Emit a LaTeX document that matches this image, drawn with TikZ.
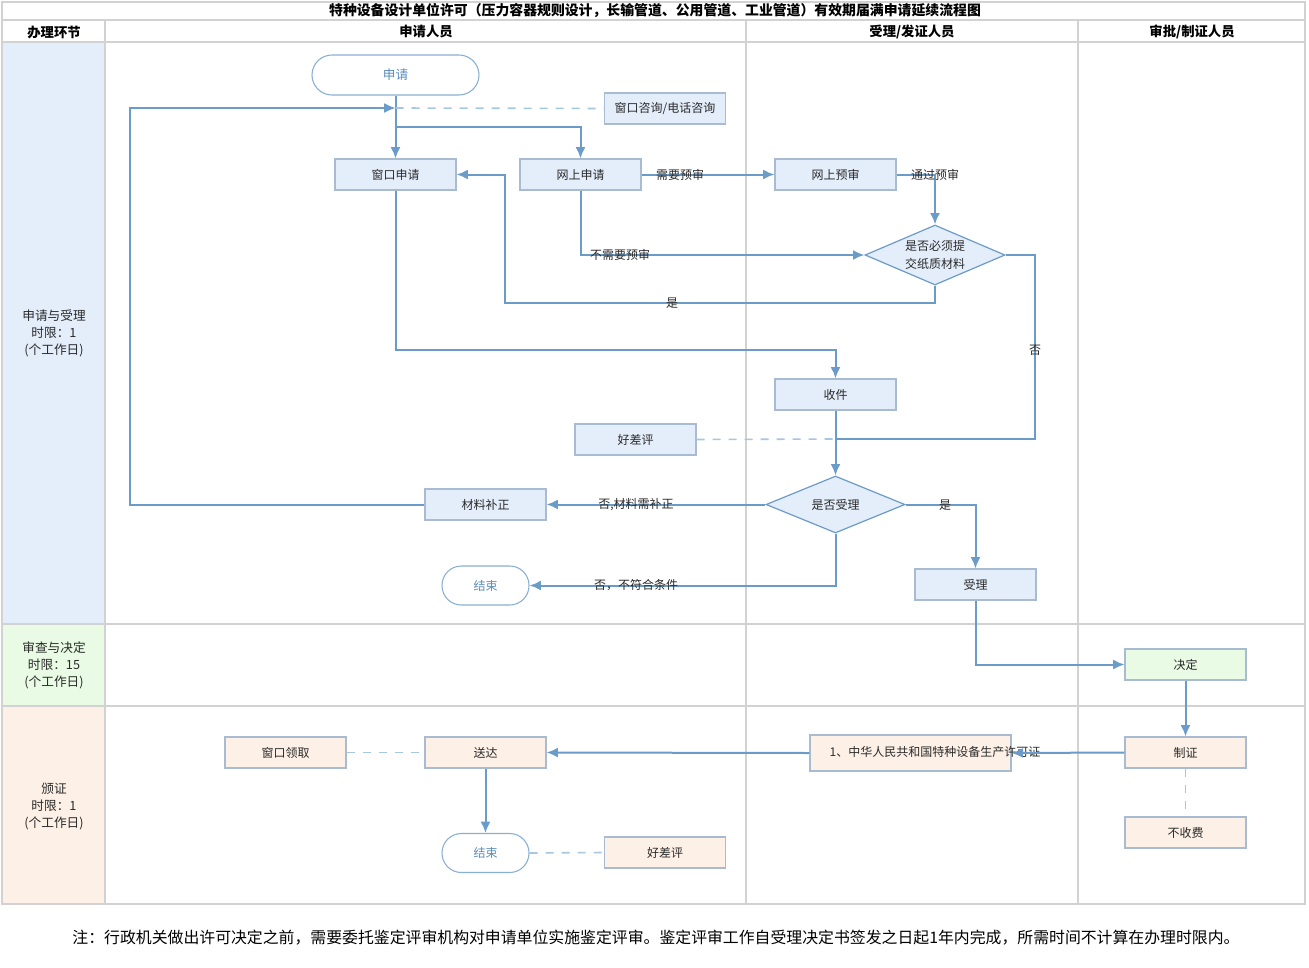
\documentclass[tikz,border=0pt]{standalone}
\usepackage{fontspec}
\setmainfont{Noto Sans CJK SC}
\usetikzlibrary{shapes.geometric,arrows.meta,calc}
\definecolor{boxblue}{HTML}{E4EEFB}
\definecolor{boxgreen}{HTML}{E9FBE4}
\definecolor{boxpeach}{HTML}{FDF0E6}
\definecolor{boxedge}{HTML}{A8BBD0}
\definecolor{flow}{HTML}{6B9BC8}
\definecolor{dashc}{HTML}{A9C6DF}
\definecolor{gridc}{HTML}{D2D2D2}
\definecolor{pilltext}{HTML}{5A8CBD}
\definecolor{txt}{HTML}{2A2A2A}
\begin{document}
\begin{tikzpicture}[x=0.75pt,y=-0.75pt,
  every node/.style={font=\fontsize{9}{11}\selectfont, text=txt},
  procbox/.style={draw=boxedge, line width=0.8pt, fill=boxblue, minimum width=90.75pt, minimum height=23.25pt, inner sep=0pt},
  greenbox/.style={procbox, fill=boxgreen},
  peachbox/.style={procbox, fill=boxpeach},
  pill/.style={draw=flow!80, line width=0.8pt, fill=white, rounded corners=14.5pt, minimum width=65.25pt, minimum height=29.25pt, inner sep=0pt, text=pilltext},
  decide/.style={diamond, aspect=2.4, draw=flow, line width=0.9pt, fill=boxblue, inner sep=0pt, align=center, font=\fontsize{9}{13.5}\selectfont},
  arr/.style={draw=flow, line width=1.5pt, -{Latex[length=8.5pt,width=7.5pt]}},
  ln/.style={draw=flow, line width=1.5pt},
  dsh/.style={draw=dashc, line width=1.2pt, dash pattern=on 6pt off 6pt},
  grid/.style={draw=gridc, line width=1.5pt},
  lbl/.style={inner sep=0pt, text=txt},
  lane/.style={align=center, font=\fontsize{9.5}{12.75}\selectfont, text=txt},
  head/.style={font=\fontsize{10}{12}\bfseries\selectfont, text=black}
]
\useasboundingbox (0,0) rectangle (1309,967);
\fill[white] (0,0) rectangle (1309,967);
% lane fills
\fill[boxblue] (3,42) rectangle (105,624);
\fill[boxgreen] (3,624) rectangle (105,706);
\fill[boxpeach] (3,706) rectangle (105,904);
% grid
\draw[grid] (2,2) rectangle (1305,904);
\draw[grid] (2,20) -- (1305,20);
\draw[grid] (2,42) -- (1305,42);
\draw[grid] (2,624) -- (1305,624);
\draw[grid] (2,706) -- (1305,706);
\draw[grid] (105,20) -- (105,904);
\draw[grid] (746,20) -- (746,904);
\draw[grid] (1078,20) -- (1078,904);
% headers
\node[head, font=\fontsize{10.4}{12}\bfseries\selectfont] (title) at (655,11) {特种设备设计单位许可（压力容器规则设计，长输管道、公用管道、工业管道）有效期届满申请延续流程图};
\node[head] (h1) at (54,32) {办理环节};
\node[head] (h2) at (426,32) {申请人员};
\node[head] (h3) at (912,32) {受理/发证人员};
\node[head] (h4) at (1192,32) {审批/制证人员};
\node[lane] (l1) at (54,333) {申请与受理\\时限：1\\(个工作日)};
\node[lane] (l2) at (54,665) {审查与决定\\时限：15\\(个工作日)};
\node[lane] (l3) at (54,806) {颁证\\时限：1\\(个工作日)};
% nodes
\node[pill, minimum width=125.25pt, minimum height=30pt, rounded corners=15pt, font=\fontsize{9.5}{11}\selectfont] (start) at (395.5,75) {申请};
\node[procbox] (zixun) at (665,108.5) {窗口咨询/电话咨询};
\node[procbox] (ck) at (395.5,174.5) {窗口申请};
\node[procbox] (ws) at (580.5,174.5) {网上申请};
\node[procbox] (ys) at (835.5,174.5) {网上预审};
\node[decide, minimum width=105pt, minimum height=45pt] (d1) at (935,255) {是否必须提\\交纸质材料};
\node[procbox] (sj) at (835.5,394.5) {收件};
\node[procbox] (hp1) at (635.5,439.5) {好差评};
\node[decide, minimum width=104.25pt, minimum height=42.75pt] (d2) at (835.5,504.5) {是否受理};
\node[procbox] (bz) at (485.5,504.5) {材料补正};
\node[pill] (end1) at (485.5,585.5) {结束};
\node[procbox] (sl) at (975.5,584.5) {受理};
\node[greenbox] (jd) at (1185.5,664.5) {决定};
\node[peachbox] (zz) at (1185.5,752.5) {制证};
\node[peachbox] (bsf) at (1185.5,832.5) {不收费};
\node[peachbox, minimum width=150.75pt, minimum height=27pt] (lic) at (910.5,753) {};
\node[anchor=west, inner sep=0pt] (lictxt) at ($(lic.west)+(20,-1)$) {1、中华人民共和国特种设备生产许可证};
\node[peachbox] (sd) at (485.5,752.5) {送达};
\node[peachbox] (lq) at (285.5,752.5) {窗口领取};
\node[pill] (end2) at (485.5,853) {结束};
\node[peachbox] (hp2) at (665,852.5) {好差评};
% coordinates
\coordinate (J) at (395.5,108);
\coordinate (br) at (395.5,127);
\coordinate (lp) at (130,108);
\coordinate (m1) at (935,303);
\coordinate (m2) at (505,174.5);
\coordinate (m3) at (1035,439);
\coordinate (m4) at (835.5,439);
\coordinate (m5) at (395.5,350);
% connectors
\draw[arr] (start.south) -- (ck.north);
\draw[arr] (br) -| (ws.north);
\draw[arr] (bz.west) -| (lp) -- (J);
\draw[dsh] (J) -- (zixun.west);
\draw[arr] (ws.east) -- (ys.west);
\draw[arr] (ys.east) -| (d1.north);
\draw[arr] (ws.south) |- (d1.west);
\draw[arr] (d1.south) -- (m1) -| (m2) -- (ck.east);
\draw[ln] (d1.east) -| (m3) -- (m4);
\draw[arr] (ck.south) -- (m5) -| (sj.north);
\draw[dsh] (hp1.east) -- (m4);
\draw[arr] (sj.south) -- (d2.north);
\draw[arr] (d2.west) -- (bz.east);
\draw[arr] (d2.south) |- (end1.east);
\draw[arr] (d2.east) -| (sl.north);
\draw[arr] (sl.south) |- (jd.west);
\draw[arr] (jd.south) -- (zz.north);
\draw[dsh] (zz.south) -- (bsf.north);
\draw[arr] (zz.west) -- (lic.east);
\draw[arr] (lic.west) -- (sd.east);
\draw[dsh] (lq.east) -- (sd.west);
\draw[arr] (sd.south) -- (end2.north);
\draw[dsh] (end2.east) -- (hp2.west);
% connector labels
\node[lbl] (t1) at (680,175) {需要预审};
\node[lbl] (t2) at (935,175) {通过预审};
\node[lbl] (t3) at (620,255) {不需要预审};
\node[lbl] (t4) at (672,303) {是};
\node[lbl] (t5) at (1035,350) {否};
\node[lbl] (t6) at (636,505) {否,材料需补正};
\node[lbl] (t7) at (636,585) {否，不符合条件};
\node[lbl] (t8) at (945,505) {是};
% note
\node[font=\fontsize{11.9}{14}\selectfont, text=black] (note) at (656,938) {注：行政机关做出许可决定之前，需要委托鉴定评审机构对申请单位实施鉴定评审。鉴定评审工作自受理决定书签发之日起1年内完成，所需时间不计算在办理时限内。};
\end{tikzpicture}
\end{document}
